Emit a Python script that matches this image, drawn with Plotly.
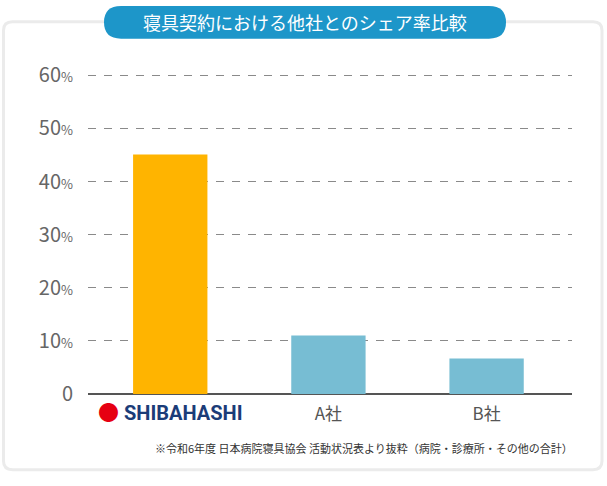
import plotly.graph_objects as go

# ---- data ----
categories = ["SHIBAHASHI", "A社", "B社"]
shares = [45.1, 11.0, 6.7]
bar_colors = ["#ffb400", "#77bdd3", "#77bdd3"]
y_ticks = [0, 10, 20, 30, 40, 50, 60]
title_text = "寝具契約における他社とのシェア率比較"
note_text = "※令和6年度 日本病院寝具協会 活動状況表より抜粋（病院・診療所・その他の合計）"

W, H = 607, 486


def px(x):
    return x / W


def py(y):
    return 1 - y / H


def rounded_rect(x0, y0, x1, y1, r):
    # pixel coords (top-left origin) -> paper path with circular corners
    pts = []
    pts.append(f"M {px(x0 + r)},{py(y0)}")
    pts.append(f"L {px(x1 - r)},{py(y0)}")
    pts.append(f"Q {px(x1)},{py(y0)} {px(x1)},{py(y0 + r)}")
    pts.append(f"L {px(x1)},{py(y1 - r)}")
    pts.append(f"Q {px(x1)},{py(y1)} {px(x1 - r)},{py(y1)}")
    pts.append(f"L {px(x0 + r)},{py(y1)}")
    pts.append(f"Q {px(x0)},{py(y1)} {px(x0)},{py(y1 - r)}")
    pts.append(f"L {px(x0)},{py(y0 + r)}")
    pts.append(f"Q {px(x0)},{py(y0)} {px(x0 + r)},{py(y0)}")
    pts.append("Z")
    return " ".join(pts)


xpos = list(range(len(categories)))

tick_text_x = []
for c in categories:
    if c == "SHIBAHASHI":
        tick_text_x.append(
            "<span style='color:#e60012;font-size:21px'>●</span>"
            "<b><span style='color:#1b3c78;font-family:\"Liberation Sans Narrow\", \"Roboto\", sans-serif;font-size:20px'> SHIBAHASHI</span></b>"
        )
    else:
        tick_text_x.append(c)

tick_text_y = [
    ("0" if v == 0 else f"{v}<span style='font-size:13px'>%</span>") for v in y_ticks
]

fig = go.Figure()
fig.add_trace(
    go.Bar(
        x=xpos,
        y=shares,
        marker=dict(color=bar_colors, line=dict(width=0)),
        width=0.47,
        hoverinfo="skip",
    )
)

shapes = [
    dict(
        type="path",
        xref="paper",
        yref="paper",
        path=rounded_rect(3.5, 17.5, 602, 482.5, 9),
        line=dict(color="#ebebeb", width=3),
        fillcolor="rgba(0,0,0,0)",
        layer="below",
    ),
    dict(
        type="path",
        xref="paper",
        yref="paper",
        path=rounded_rect(104, 1, 506, 35, 17),
        line=dict(width=0),
        fillcolor="#1d96c9",
        layer="above",
    ),
]

annotations = [
    dict(
        text=title_text,
        xref="paper",
        yref="paper",
        x=px(305),
        y=py(18),
        xanchor="center",
        yanchor="middle",
        showarrow=False,
        font=dict(family="Noto Sans CJK JP", size=18, color="white"),
    ),
    dict(
        text=note_text,
        xref="paper",
        yref="paper",
        x=px(575),
        y=py(460),
        xanchor="right",
        yanchor="middle",
        showarrow=False,
        font=dict(family="Noto Sans CJK JP", size=11, color="#333333"),
    ),
]

fig.update_layout(
    width=W,
    height=H,
    margin=dict(l=0, r=0, t=0, b=0),
    paper_bgcolor="white",
    plot_bgcolor="white",
    showlegend=False,
    shapes=shapes,
    annotations=annotations,
    font=dict(family="Noto Sans CJK JP, Roboto, sans-serif", color="#555555"),
    xaxis=dict(
        domain=[px(88), px(572)],
        range=[-0.52, 2.54],
        tickvals=xpos,
        ticktext=tick_text_x,
        showgrid=False,
        zeroline=False,
        showline=False,
        ticks="",
        ticklabelstandoff=8,
        tickfont=dict(size=17, color="#555555"),
        fixedrange=True,
    ),
    yaxis=dict(
        domain=[py(404), py(62)],
        range=[0, 62],
        tickvals=y_ticks,
        ticktext=tick_text_y,
        showgrid=True,
        gridcolor="#8a8a8a",
        gridwidth=1,
        griddash="8px,8px",
        zeroline=True,
        zerolinecolor="#555555",
        zerolinewidth=1.5,
        showline=False,
        ticks="",
        ticklabelstandoff=14,
        tickfont=dict(family="Noto Sans CJK JP, Roboto", size=20, color="#666666"),
        fixedrange=True,
    ),
)

fig.write_html(
    "out.html",
    config={"displayModeBar": False, "staticPlot": True},
    post_script=(
        "document.documentElement.style.margin='0';"
        "document.documentElement.style.overflow='hidden';"
        "document.body.style.margin='0';"
        "document.body.style.overflow='hidden';"
    ),
)
